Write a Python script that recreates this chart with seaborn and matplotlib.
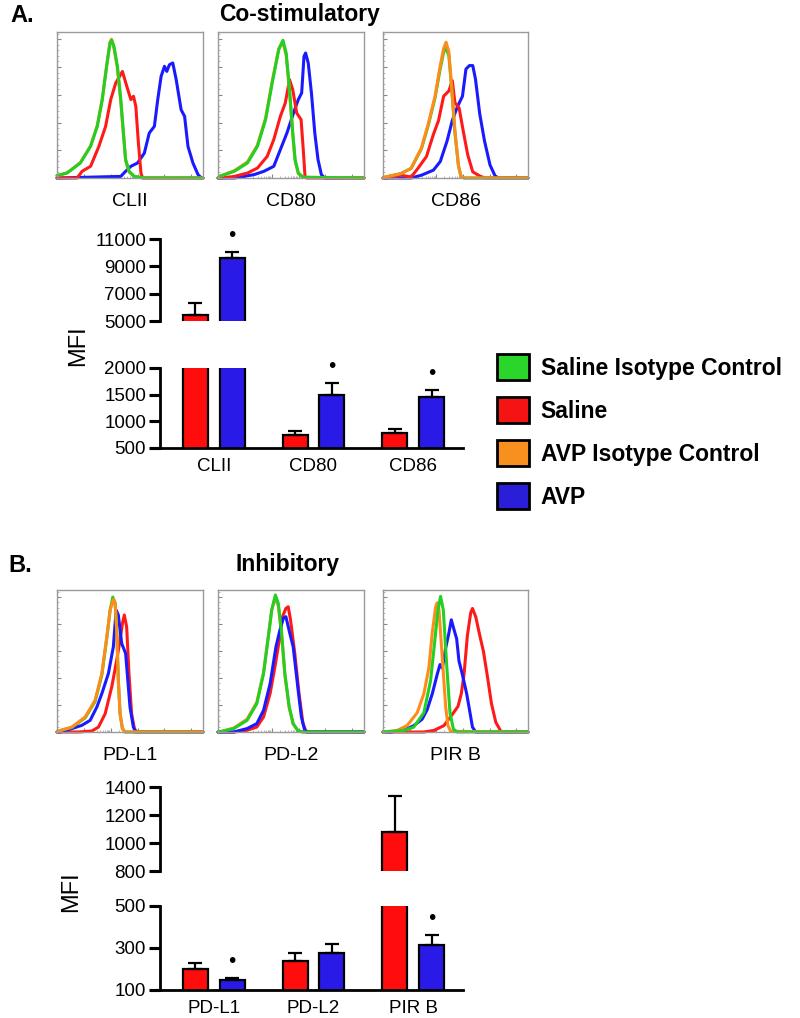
import numpy as np
import pandas as pd
import matplotlib
matplotlib.use("Agg")
import matplotlib.pyplot as plt
from matplotlib.patches import Patch
import seaborn as sns

# ---- bar chart data (MFI, mean and upper SEM) ----
markers_a = ["CLII", "CD80", "CD86"]
saline_a = [5450, 750, 780]
saline_a_err = [870, 75, 75]
avp_a = [9600, 1500, 1455]
avp_a_err = [450, 220, 135]
avp_a_sig = [True, True, True]

markers_b = ["PD-L1", "PD-L2", "PIR B"]
saline_b = [200, 238, 1080]
saline_b_err = [29, 38, 256]
avp_b = [148, 276, 314]
avp_b_err = [9, 43, 48]
avp_b_sig = [True, False, True]

ticks_a_upper = [5000, 7000, 9000, 11000]
ticks_a_lower = [500, 1000, 1500, 2000]
ticks_b_upper = [800, 1000, 1200, 1400]
ticks_b_lower = [100, 300, 500]

groups = ["Saline Isotype Control", "Saline", "AVP Isotype Control", "AVP"]

# ---- flow histograms, (fluorescence %, % of max) ----
clii_green = [(0, 1.6), (6.9, 3.4), (16, 10.3), (23, 21.7), (27.6, 35.4), (31, 53.7), (34, 76.5),
              (36.3, 92.5), (37.5, 94.3), (39, 90.2), (41.4, 76.5), (43.7, 53.7), (45.5, 30.8),
              (47, 12.6), (49.4, 4.6), (52.9, 1.1), (59.8, 0), (100, 0)]
clii_orange = [(0, 1.6), (7, 3.6), (16, 10.5), (23, 22), (27.6, 36), (31, 54), (34, 77), (36.3, 93),
               (37.3, 95), (39, 89), (41.4, 75), (43.7, 52), (45.5, 30), (47, 12), (49.4, 4), (53, 1),
               (60, 0), (100, 0)]
clii_red = [(0, 0), (13.8, 0), (17.2, 4.6), (23, 8), (28.7, 21.7), (33.3, 35.4), (36.8, 53.7),
            (40.2, 65), (44.8, 73), (47.8, 62.8), (50.6, 53.7), (52.4, 56), (54, 49), (55.6, 26),
            (57.5, 3.4), (58.6, 0), (100, 0)]
clii_blue = [(0, 0), (43.7, 1.1), (47, 4.6), (50.6, 8), (55.2, 10.3), (59.8, 17), (63.2, 30.8),
             (66.7, 35.4), (69, 53.7), (71.3, 69.6), (73.6, 76.5), (75.2, 73), (77, 77.6), (79.3, 78.8),
             (81.6, 67.6), (85, 46.8), (87.4, 42.2), (89.7, 21.7), (93.1, 10.3), (96.6, 2.3),
             (98.9, 0), (100, 0)]

cd80_green = [(0, 0), (1.1, 1.1), (11.2, 4.6), (20.2, 10.3), (27, 21.7), (32.6, 40), (37.1, 65),
              (41.6, 87.9), (44.5, 94.3), (46.7, 85.6), (49, 60.5), (51.2, 30.8), (52.8, 12.6),
              (55, 3.4), (58.4, 0.5), (100, 0)]
cd80_orange = [(0, 0), (1.1, 1.2), (11.2, 5), (20.2, 11), (27, 22.5), (32.6, 41), (37.1, 66),
               (41.6, 88.5), (44.3, 93.5), (46.7, 84), (49, 59), (51.2, 30), (52.8, 12), (55, 3),
               (58.4, 0.5), (100, 0)]
cd80_red = [(0, 0), (2.2, 0), (11.2, 1.1), (20.2, 3.4), (27, 6.8), (33.7, 14.8), (38.2, 26.3),
            (42.7, 42.2), (46.1, 51.4), (49, 67.4), (51.2, 60.5), (53.9, 44.5), (56.9, 40),
            (58.4, 19.4), (59.6, 1.1), (60.7, 0), (100, 0)]
cd80_blue = [(0, 0), (11.2, 0), (24.7, 2.3), (31.5, 4.6), (38.2, 8), (42.7, 19.4), (47.2, 30.8),
             (51.7, 44.5), (55, 53.7), (57.3, 58.2), (58.9, 83.3), (60, 85.6), (61.8, 78.8),
             (64, 58.2), (66.3, 30.8), (68.5, 12.6), (70.8, 2.3), (73, 0), (100, 0)]

cd86_green = [(0, 0), (1.7, 0.7), (12.3, 3), (19.4, 6.6), (26.5, 20), (31.2, 36), (35.9, 55),
              (39.5, 75), (41.8, 86), (43.3, 89), (45.4, 84), (47.3, 62), (49.6, 31), (52, 8.5),
              (53.7, 1.2), (56, 0), (100, 0)]
cd86_orange = [(0, 0), (1.7, 0.7), (12.3, 3), (19.4, 6.6), (26.5, 20.7), (31.2, 37), (35.9, 56),
               (39.5, 77), (41.8, 88.7), (43.5, 93), (45.4, 86.4), (47.3, 63), (49.6, 32.4),
               (52, 9), (53.7, 1.4), (56, 0), (100, 0)]
cd86_red = [(0, 0), (2.8, 0), (12.3, 1.9), (19.4, 0.7), (24.1, 6.6), (30, 14.8), (34.8, 30),
            (38.3, 39.4), (41.8, 56), (45.4, 59.6), (47.8, 66.7), (49.6, 51.6), (52.5, 47.9),
            (55.3, 32.4), (58.4, 16), (61.9, 4.2), (66.7, 1.4), (70.2, 0), (100, 0)]
cd86_blue = [(0, 0), (19.4, 0), (26.5, 1.9), (34.8, 5.4), (39.5, 11.3), (44.2, 25.4), (47.8, 39.4),
             (51.3, 48.8), (54.8, 56), (57.2, 74.6), (59.6, 77), (61.9, 77), (63.8, 67.6),
             (66.7, 44), (70, 25.4), (73.8, 8.9), (77.3, 1.4), (79.7, 0), (100, 0)]

pdl1_green = [(0, 0), (1.1, 0.7), (10.2, 3.2), (19.3, 10), (26.1, 21.5), (30.7, 40), (34.1, 66),
              (36.4, 86), (38.2, 95), (39.8, 91), (40.9, 72), (42, 37), (43.2, 13), (44.8, 2.4),
              (46.6, 0), (100, 0)]
pdl1_orange = [(0, 0), (1.1, 0.7), (10.2, 3.5), (19.3, 10.6), (26.1, 22.4), (30.7, 41.2), (34.1, 67),
               (36.4, 85.9), (38.6, 93.4), (39.8, 90.6), (40.9, 71.8), (42, 36.5), (43.2, 12.9),
               (44.8, 2.4), (46.6, 0), (100, 0)]
pdl1_red = [(0, 0), (14.8, 0), (23.9, 0.7), (28.4, 3.5), (33, 12.9), (37.5, 31.8), (40.9, 50.6),
            (43.2, 64.7), (44.8, 76.5), (46.1, 82.4), (47.7, 74.1), (49.3, 41.2), (51.1, 12.9),
            (53, 2.4), (54.5, 0), (100, 0)]
pdl1_blue = [(0, 0), (2.3, 0), (10.2, 2.4), (17, 4.7), (22.7, 8.2), (27.3, 17.6), (30.7, 27),
             (35.2, 41.2), (38.6, 60), (40.5, 85.9), (42, 82.4), (44.3, 62.4), (47, 55.3),
             (50, 17.6), (52.3, 3.5), (53.9, 0), (100, 0)]

pdl2_green = [(0, 0), (0.7, 0), (10.8, 2.4), (19.9, 8.2), (26.6, 20), (31.2, 41.2), (34.5, 67),
              (36.8, 85.9), (39.3, 96.5), (41.3, 90.6), (43.6, 69.4), (45.8, 41.2), (48.8, 17.6),
              (51.5, 5.9), (54.9, 0.7), (58.2, 0), (100, 0)]
pdl2_orange = [(0, 0), (0.7, 0), (10.8, 2.8), (19.9, 9), (26.6, 21), (31.2, 42), (34.5, 68),
               (36.8, 86), (39, 94), (41.3, 89), (43.6, 68), (45.8, 40), (48.8, 17), (51.5, 5.5),
               (54.9, 0.7), (58.2, 0), (100, 0)]
pdl2_red = [(0, 0), (10.8, 0), (19.9, 1.2), (26.6, 3.5), (31.2, 10.6), (35.7, 27.1), (39, 45.9),
            (42, 64.7), (44.2, 81.2), (46.5, 87.1), (48.1, 88.2), (49.7, 78.8), (52.6, 55.3),
            (55.5, 27.1), (58.2, 5.9), (60.5, 0), (100, 0)]
pdl2_blue = [(0, 0), (10.8, 0), (19.9, 2.4), (26.6, 5.9), (31.2, 15.3), (35.7, 34.1), (39.7, 60),
             (42.4, 71.8), (44.7, 80), (46.5, 81.2), (49.2, 69.4), (51.5, 60), (54.9, 29.4),
             (57.1, 10.6), (59.4, 1.2), (61.6, 0), (100, 0)]

pirb_green = [(0, 0), (0.5, 0), (14.3, 1.1), (21.2, 3.4), (28.2, 13.6), (32.8, 36), (35.6, 63),
              (37.9, 86), (39.7, 95.5), (41.6, 86), (43.9, 47.5), (46.2, 13.6), (48.5, 2.3),
              (50.8, 0), (100, 0)]
pirb_orange = [(0, 0), (0.5, 0), (9.7, 1.1), (16.6, 4.5), (23.6, 13.6), (28.2, 27), (31.6, 45),
               (34, 70), (36.3, 88), (37.4, 91), (38.6, 86), (40.9, 52), (43.2, 18), (44.8, 4.5),
               (46.7, 0.5), (100, 0)]
pirb_red = [(0, 0), (28.2, 0), (35.1, 1.1), (42, 4.5), (47.8, 12.4), (51.7, 18), (54, 27),
            (55.9, 40.7), (58.2, 68), (60.5, 84), (61.7, 87), (64, 81), (66.3, 70), (69.3, 56.6),
            (72.1, 38.5), (74.8, 20), (77.8, 6.8), (81.3, 0.5), (83.6, 0), (100, 0)]
pirb_blue = [(0, 0), (5.1, 0), (14.3, 1.1), (21.2, 4.5), (27, 9), (30.5, 15.8), (34, 27),
             (37.4, 40.7), (39.3, 47.5), (40.9, 45), (43.2, 59), (45.5, 70), (47.1, 79), (49, 72),
             (50.8, 65.6), (52.4, 50), (54.7, 40.7), (57.7, 27), (60, 13.6), (61.7, 3.4), (64, 0),
             (100, 0)]

line_colors = {"Saline Isotype Control": "#22d022", "Saline": "#ff1a1a",
               "AVP Isotype Control": "#ff8c1a", "AVP": "#1a1aff"}
bar_colors = {"Saline": "#ff0d0d", "AVP": "#2a1ae8"}
legend_colors = ["#2ad62a", "#f41414", "#f7901e", "#2a1ed8"]

W, H = 800, 1018


def px_axes(fig, x0, y0, x1, y1):
    return fig.add_axes([x0 / W, 1 - y1 / H, (x1 - x0) / W, (y1 - y0) / H])


def hist_panel(ax, label, curves):
    # curves: list of (group, points) in drawing order
    rows = []
    for grp, pts in curves:
        for x, y in pts:
            rows.append({"x": x, "y": y, "group": grp})
    df = pd.DataFrame(rows)
    hue_order = [g for g, _ in curves]
    sns.lineplot(data=df, x="x", y="y", hue="group", hue_order=hue_order, palette=line_colors,
                 sort=False, estimator=None, legend=False, linewidth=2.2, ax=ax)
    for ln in ax.lines:
        ln.set_clip_on(False)
    ax.set_xlim(0, 100)
    ax.set_ylim(0, 100)
    dec = 18.4
    ax.set_xticks(np.arange(6) * dec)
    ax.set_xticks([d * dec + dec * np.log10(k) for d in range(5) for k in range(2, 10)], minor=True)
    ax.set_yticks(np.arange(6) * 19)
    ax.set_yticks(np.arange(0, 100, 19 / 5), minor=True)
    ax.tick_params(which="both", left=True, bottom=True, labelbottom=False, labelleft=False)
    ax.tick_params(which="major", direction="in", length=3, width=0.8, color="#888888")
    ax.tick_params(which="minor", direction="in", length=1.5, width=0.6, color="#aaaaaa")
    for s in ax.spines.values():
        s.set_visible(True)
        s.set_color("#9a9a9a")
        s.set_linewidth(1.0)
    ax.set_xlabel("")
    ax.set_ylabel("")
    ax.annotate(label, xy=(0.5, 0), xycoords="axes fraction", xytext=(0, -17),
                textcoords="offset points", ha="center", va="center", fontsize=14)


def broken_bars(fig, box_x, upper_y, lower_y, markers, sal, sal_err, avp, avp_err, sig,
                lims_up, lims_lo, ticks_up, ticks_lo):
    df = pd.DataFrame({"marker": markers * 2,
                       "group": ["Saline"] * len(markers) + ["AVP"] * len(markers),
                       "MFI": sal + avp})
    means = sal + avp
    errs = sal_err + avp_err
    sigs = [False] * len(markers) + sig
    ax_up = px_axes(fig, box_x[0], upper_y[0], box_x[1], upper_y[1])
    ax_lo = px_axes(fig, box_x[0], lower_y[0], box_x[1], lower_y[1])
    for ax, lims, ticks in ((ax_up, lims_up, ticks_up), (ax_lo, lims_lo, ticks_lo)):
        sns.barplot(data=df, x="marker", y="MFI", hue="group", hue_order=["Saline", "AVP"],
                    palette=bar_colors, saturation=1, width=0.74, gap=0.32, edgecolor="black",
                    linewidth=1.6, errorbar=None, legend=False, ax=ax)
        for p, m, e in zip(list(ax.patches), means, errs):
            xc = p.get_x() + p.get_width() / 2
            ax.errorbar(xc, m, yerr=[[0], [e]], fmt="none", ecolor="black", elinewidth=1.6,
                        capsize=5, capthick=1.6, zorder=1)
        ax.set_xlim(-0.54, 2.5)
        ax.set_ylim(*lims)
        ax.set_yticks(ticks)
        ax.set_yticklabels([str(t) for t in ticks])
        ax.set_xlabel("")
        ax.set_ylabel("")
        for s in ("top", "right"):
            ax.spines[s].set_visible(False)
        ax.spines["left"].set_linewidth(2)
        ax.spines["bottom"].set_linewidth(2)
        ax.tick_params(axis="y", which="major", left=True, direction="out", length=8, width=2.2,
                       color="black", pad=2, labelsize=13.5)
        # outward tick marks at each labelled value
        ytr = ax.get_yaxis_transform()
        for t in ticks:
            ax.plot([-0.034, 0], [t, t], transform=ytr, color="black", lw=2.2,
                    solid_capstyle="butt", clip_on=False, zorder=5)
        ax.tick_params(axis="x", bottom=False, length=0, pad=7, labelsize=13.5)
        ax.patch.set_alpha(0)
        # significance dots
        for p, m, e, s in zip(list(ax.patches), means, errs, sigs):
            top = m + e
            if s and lims[0] < top <= lims[1]:
                ax.annotate("•", xy=(p.get_x() + p.get_width() / 2, top), xytext=(0, 12),
                            textcoords="offset points", ha="center", va="center",
                            fontsize=15, annotation_clip=False)
    ax_up.spines["bottom"].set_visible(False)
    ax_up.tick_params(axis="x", labelbottom=False)
    return ax_up, ax_lo


sns.set_theme(style="ticks")
plt.rcParams["font.family"] = ["Liberation Sans", "DejaVu Sans"]
for key in ("text.color", "axes.labelcolor", "xtick.color", "ytick.color", "axes.edgecolor"):
    plt.rcParams[key] = "black"

fig = plt.figure(figsize=(W / 100, H / 100), dpi=100)

hist_x = [(57, 203), (218, 364), (383, 528)]

# ---- A: co-stimulatory ----
fig.text(10 / W, 1 - 15 / H, "A.", fontsize=17, fontweight="bold", va="center", ha="left")
fig.text(300 / W, 1 - 14 / H, "Co-stimulatory", fontsize=16.5, fontweight="bold",
         va="center", ha="center")
panels_a = [
    ("CLII", [("AVP", clii_blue), ("Saline", clii_red), ("AVP Isotype Control", clii_orange),
              ("Saline Isotype Control", clii_green)]),
    ("CD80", [("AVP", cd80_blue), ("Saline", cd80_red), ("AVP Isotype Control", cd80_orange),
              ("Saline Isotype Control", cd80_green)]),
    ("CD86", [("AVP", cd86_blue), ("Saline", cd86_red), ("Saline Isotype Control", cd86_green),
              ("AVP Isotype Control", cd86_orange)]),
]
for (x0, x1), (lab, curves) in zip(hist_x, panels_a):
    hist_panel(px_axes(fig, x0, 32, x1, 178), lab, curves)

broken_bars(fig, (160, 463), (239, 321), (368, 448), markers_a, saline_a, saline_a_err,
            avp_a, avp_a_err, avp_a_sig, (5000, 11000), (500, 2000), ticks_a_upper, ticks_a_lower)
fig.text(78 / W, 1 - 346 / H, "MFI", rotation=90, fontsize=17, ha="center", va="center")

# legend
handles = [Patch(facecolor=c, edgecolor="black", linewidth=2) for c in legend_colors]
fig.legend(handles, groups, loc="upper left", bbox_to_anchor=(497 / W, 1 - 354 / H),
           frameon=False, borderpad=0, borderaxespad=0, handlelength=1.4, handleheight=1.4,
           handletextpad=0.5, labelspacing=0.72, prop={"size": 16.5, "weight": "bold"})

# ---- B: inhibitory ----
fig.text(8 / W, 1 - 566 / H, "B.", fontsize=17, fontweight="bold", va="center", ha="left")
fig.text(288 / W, 1 - 564 / H, "Inhibitory", fontsize=16.5, fontweight="bold",
         va="center", ha="center")
panels_b = [
    ("PD-L1", [("Saline", pdl1_red), ("AVP", pdl1_blue), ("Saline Isotype Control", pdl1_green),
               ("AVP Isotype Control", pdl1_orange)]),
    ("PD-L2", [("AVP Isotype Control", pdl2_orange), ("Saline", pdl2_red), ("AVP", pdl2_blue),
               ("Saline Isotype Control", pdl2_green)]),
    ("PIR B", [("Saline", pirb_red), ("AVP", pirb_blue), ("AVP Isotype Control", pirb_orange),
               ("Saline Isotype Control", pirb_green)]),
]
for (x0, x1), (lab, curves) in zip(hist_x, panels_b):
    hist_panel(px_axes(fig, x0, 590, x1, 732), lab, curves)

broken_bars(fig, (160, 463), (787, 871), (906, 990), markers_b, saline_b, saline_b_err,
            avp_b, avp_b_err, avp_b_sig, (800, 1400), (100, 500), ticks_b_upper, ticks_b_lower)
fig.text(71 / W, 1 - 892 / H, "MFI", rotation=90, fontsize=17, ha="center", va="center")

fig.savefig("out.png", dpi=100)
